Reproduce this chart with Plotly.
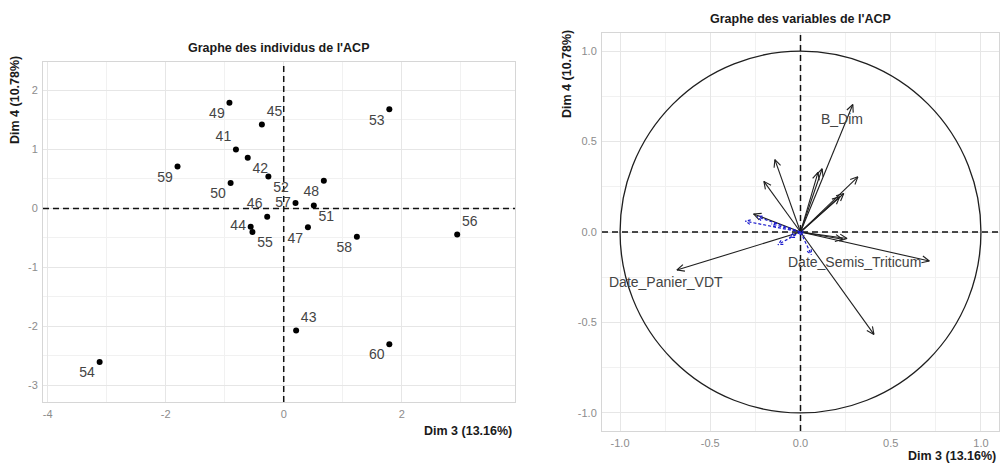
import numpy as np
import plotly.graph_objects as go

# ---- Individuals: coordinates on Dim 3 / Dim 4 ----
ind_labels = ["41", "42", "43", "44", "45", "46", "47", "48", "49", "50",
              "51", "52", "53", "54", "55", "56", "57", "58", "59", "60"]
ind_dim3 = [-0.81, -0.61, 0.21, -0.56, -0.37, -0.28, 0.41, 0.68, -0.92, -0.90,
            0.51, -0.26, 1.79, -3.12, -0.53, 2.94, 0.20, 1.24, -1.80, 1.79]
ind_dim4 = [1.00, 0.86, -2.07, -0.31, 1.42, -0.14, -0.32, 0.47, 1.79, 0.43,
            0.05, 0.54, 1.68, -2.60, -0.40, -0.44, 0.09, -0.48, 0.71, -2.30]
ind_textpos = ["top left", "bottom right", "top right", "middle left", "top right",
               "top left", "bottom left", "bottom left", "bottom left", "bottom left",
               "bottom right", "bottom right", "bottom left", "bottom left", "bottom right",
               "top right", "middle left", "bottom left", "bottom left", "bottom left"]

# ---- Active variables (correlation with Dim 3 / Dim 4) ----
var_names = ["B_Dim", "", "", "", "", "", "", "", "", "",
             "Date_Semis_Triticum", "Date_Panier_VDT", "", ""]
var_dim3 = [0.290, -0.142, -0.203, 0.120, 0.097, 0.318, 0.240, 0.217, 0.258, 0.234,
            0.714, -0.685, 0.407, -0.260]
var_dim4 = [0.705, 0.400, 0.280, 0.350, 0.330, 0.305, 0.213, 0.195, -0.036, -0.040,
            -0.160, -0.210, -0.566, 0.100]

# ---- Supplementary quantitative variables ----
sup_dim3 = [-0.305, -0.240, -0.160, -0.125, -0.060, 0.060, 0.020]
sup_dim4 = [0.060, 0.085, 0.045, -0.070, -0.030, -0.125, -0.020]

# Axis extents
IND_XRANGE = [-4.08, 3.92]
IND_YRANGE = [-3.28, 2.48]
VAR_RANGE = [-1.1, 1.1]

FONT = "Liberation Sans, Arial, sans-serif"
INK = "#1f1f1f"
GRID_MAJOR = "#e6e6e6"
GRID_MINOR = "#f1f1f1"
TICK_COL = "#8c8c8c"


def arrow_path(xs, ys, head=0.045, spread=np.radians(25)):
    """Shafts plus open heads for vectors starting at the origin."""
    px, py = [], []
    for x, y in zip(xs, ys):
        a = np.arctan2(y, x)
        px += [0, x, None]
        py += [0, y, None]
        for s in (spread, -spread):
            px += [x - head * np.cos(a + s), x, None]
            py += [y - head * np.sin(a + s), y, None]
    return px, py


def cross(xr, yr):
    """Dashed horizontal and vertical lines through the origin."""
    return [xr[0], xr[1], None, 0, 0], [0, 0, None, yr[0], yr[1]]


fig = go.Figure()
dash_line = dict(color="#111111", width=1.5, dash="6px,4px")

# Origin lines (drawn first, under the marks)
cx, cy = cross(IND_XRANGE, IND_YRANGE)
fig.add_trace(go.Scatter(x=cx, y=cy, mode="lines", line=dash_line,
                         xaxis="x", yaxis="y", hoverinfo="skip", showlegend=False))
cx, cy = cross(VAR_RANGE, VAR_RANGE)
fig.add_trace(go.Scatter(x=cx, y=cy, mode="lines", line=dash_line,
                         xaxis="x2", yaxis="y2", hoverinfo="skip", showlegend=False))

# Individuals
fig.add_trace(go.Scatter(
    x=ind_dim3, y=ind_dim4, mode="markers+text",
    text=ind_labels, textposition=ind_textpos,
    textfont=dict(family=FONT, size=14, color="#444444"),
    marker=dict(color="black", size=6),
    xaxis="x", yaxis="y", hoverinfo="skip", showlegend=False,
))

# Variables
ax_, ay_ = arrow_path(var_dim3, var_dim4)
fig.add_trace(go.Scatter(
    x=ax_, y=ay_, mode="lines", line=dict(color=INK, width=1.1),
    xaxis="x2", yaxis="y2", hoverinfo="skip", showlegend=False,
))
sx_, sy_ = arrow_path(sup_dim3, sup_dim4, head=0.03)
fig.add_trace(go.Scatter(
    x=sx_, y=sy_, mode="lines", line=dict(color="#1a1acc", width=1.2, dash="3px,2px"),
    xaxis="x2", yaxis="y2", hoverinfo="skip", showlegend=False,
))

# Variable labels
label_style = {
    "B_Dim": dict(xanchor="center", yanchor="middle", xshift=-11, yshift=-15),
    "Date_Semis_Triticum": dict(xanchor="right", yanchor="middle", xshift=-6, yshift=-1),
    "Date_Panier_VDT": dict(xanchor="center", yanchor="middle", xshift=-11, yshift=-12),
}
for name, x, y in zip(var_names, var_dim3, var_dim4):
    if name:
        fig.add_annotation(x=x, y=y, xref="x2", yref="y2", text=name, showarrow=False,
                           font=dict(family=FONT, size=14, color="#444444"),
                           **label_style[name])

# Correlation circle
shapes = [
    dict(type="circle", xref="x2", yref="y2", x0=-1, x1=1, y0=-1, y1=1,
         line=dict(color=INK, width=1.3)),
]


def axis(domain, rng, major, minor, fmt, anchor):
    return dict(
        domain=domain, range=rng, anchor=anchor,
        tickmode="array", tickvals=major, ticktext=[fmt(v) for v in major],
        showgrid=True, gridcolor=GRID_MAJOR, gridwidth=1,
        minor=dict(tickmode="array", tickvals=minor, showgrid=True,
                   gridcolor=GRID_MINOR, gridwidth=1, ticks=""),
        zeroline=False, showline=True, mirror=True, linecolor="#d6d6d6", linewidth=1,
        ticks="", ticklabelstandoff=2,
        tickfont=dict(family=FONT, size=11, color=TICK_COL),
    )


def plain(v):
    return f"{v:g}"


def one_dec(v):
    return f"{v:.1f}"


fig.update_layout(
    width=1000, height=463,
    margin=dict(l=0, r=0, t=0, b=0),
    paper_bgcolor="white", plot_bgcolor="white",
    xaxis=axis([0.043, 0.515], IND_XRANGE, [-4, -2, 0, 2], [-3, -1, 1, 3], plain, "y"),
    yaxis=axis([0.1317, 0.866], IND_YRANGE, [-3, -2, -1, 0, 1, 2],
               [-2.5, -1.5, -0.5, 0.5, 1.5], plain, "x"),
    xaxis2=axis([0.602, 0.999], VAR_RANGE, [-1, -0.5, 0, 0.5, 1],
                [-0.75, -0.25, 0.25, 0.75], one_dec, "y2"),
    yaxis2=axis([0.069, 0.9287], VAR_RANGE, [-1, -0.5, 0, 0.5, 1],
                [-0.75, -0.25, 0.25, 0.75], one_dec, "x2"),
    shapes=shapes,
)

texts = [
    dict(text="<b>Graphe des individus de l'ACP</b>", x=278, y=48, angle=0, xa="center"),
    dict(text="<b>Graphe des variables de l'ACP</b>", x=800, y=19, angle=0, xa="center"),
    dict(text="<b>Dim 3 (13.16%)</b>", x=514, y=431, angle=0, xa="right"),
    dict(text="<b>Dim 3 (13.16%)</b>", x=998, y=456, angle=0, xa="right"),
    dict(text="<b>Dim 4 (10.78%)</b>", x=15, y=100, angle=-90, xa="center"),
    dict(text="<b>Dim 4 (10.78%)</b>", x=567, y=74, angle=-90, xa="center"),
]
for t in texts:
    fig.add_annotation(
        text=t["text"], xref="paper", yref="paper",
        x=t["x"] / 1000, y=1 - t["y"] / 463,
        xanchor=t["xa"], yanchor="middle", textangle=t["angle"], showarrow=False,
        font=dict(family=FONT, size=12.5, color="#1a1a1a"),
    )

fig.write_html("out.html")
